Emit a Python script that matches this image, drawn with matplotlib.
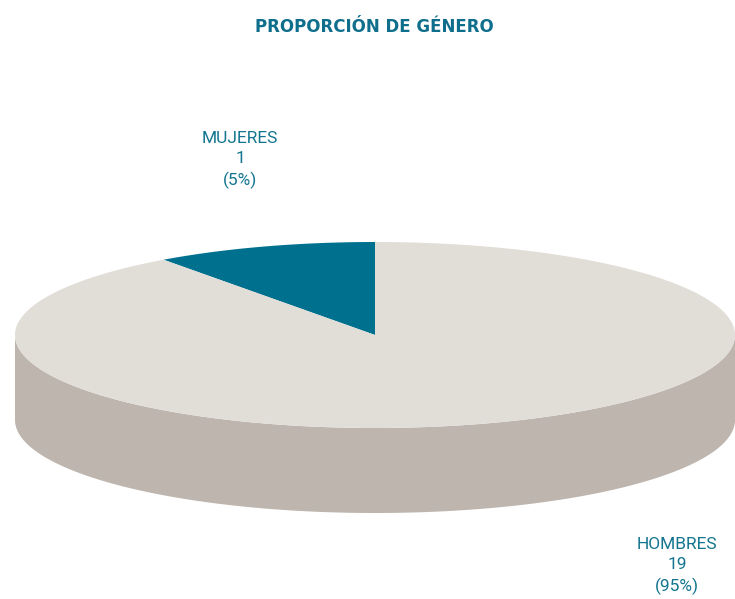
import numpy as np
import matplotlib.pyplot as plt
from matplotlib.patches import Polygon

# ----------------------------------------------------------
# data
# ----------------------------------------------------------
labels = ["MUJERES", "HOMBRES"]
values = [1, 19]
colors = ["#00708F", "#E1DDD7"]
side_color = "#BDB5AE"
text_color = "#13758F"

title = "PROPORCIÓN DE GÉNERO"

# ----------------------------------------------------------
# pie geometry (pixel space)
# ----------------------------------------------------------
cx, cy = 375, 335       # centre of top face
rx, ry = 360, 93        # ellipse radii
depth = 85              # thickness of the pie
persp = 2.05            # perspective stretch of the back of the pie


def to_screen(theta):
    # theta: true angle in degrees, from the top, counter-clockwise
    th = np.radians(theta)
    phi = 2 * np.arctan2(persp * np.sin(th / 2), np.cos(th / 2))
    t = np.pi / 2 + phi
    return cx + rx * np.cos(t), cy - ry * np.sin(t)


fig = plt.figure(figsize=(7.35, 5.99), dpi=100)
ax = fig.add_axes([0, 0, 1, 1])
ax.set_xlim(0, 735)
ax.set_ylim(599, 0)
ax.axis("off")

# side wall (front half)
t = np.linspace(np.pi, 2 * np.pi, 200)
xs = cx + rx * np.cos(t)
ys = cy - ry * np.sin(t)
side = np.column_stack([np.r_[xs, xs[::-1]], np.r_[ys, ys[::-1] + depth]])
ax.add_patch(Polygon(side, closed=True, facecolor=side_color, edgecolor="none"))

# top face slices
fracs = np.array(values) / sum(values)
start = 0.0
for frac, col in zip(fracs, colors):
    ang = np.linspace(start, start + frac * 360, 300)
    px, py = to_screen(ang)
    pts = np.column_stack([np.r_[cx, px], np.r_[cy, py]])
    ax.add_patch(Polygon(pts, closed=True, facecolor=col, edgecolor="none"))
    start += frac * 360

# labels
pct = [round(f * 100) for f in fracs]
label_pos = [(240, 160), (677, 566)]
for lab, v, p, (lx, ly) in zip(labels, values, pct, label_pos):
    ax.text(lx, ly, f"{lab}\n{v}\n({p}%)", ha="center", va="center",
            color=text_color, fontsize=12.5, family="Roboto",
            linespacing=1.45)

ax.text(374, 27, title, ha="center", va="center", color="#0E6E8C",
        fontsize=12, fontweight="bold", family="DejaVu Sans")

fig.savefig("out.png", dpi=100)
